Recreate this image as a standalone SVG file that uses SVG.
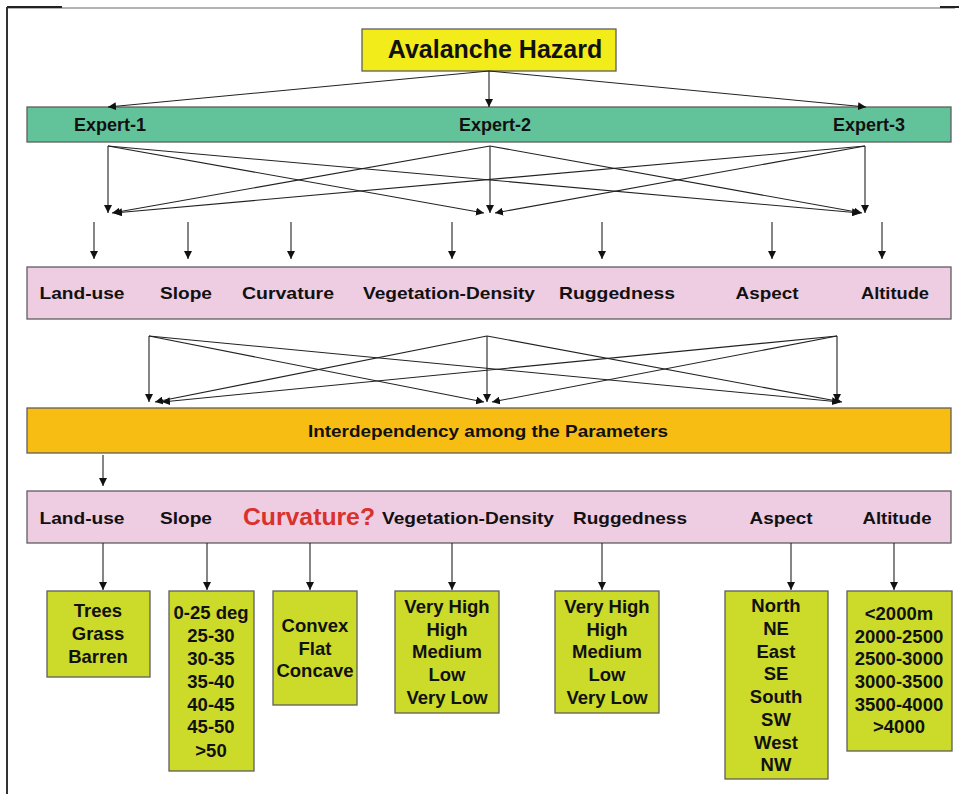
<svg xmlns="http://www.w3.org/2000/svg" width="959" height="794" viewBox="0 0 959 794">
<style>
  text { font-family: "Liberation Sans", Arial, sans-serif; font-weight: bold; fill: #111; text-anchor: middle; }
  .lbl { font-size: 17px; }
  .item { font-size: 18.5px; }
  .box { stroke: #5f5f5f; stroke-width: 1.3; }
  .val { fill: #CCDA2A; stroke: #5f5f5f; stroke-width: 1.3; }
  .con line { stroke: #222; stroke-width: 1.1; marker-end: url(#ah); }
</style>
<defs>
  <marker id="ah" viewBox="0 0 10 10" refX="10" refY="5" markerWidth="8" markerHeight="8" markerUnits="userSpaceOnUse" orient="auto">
    <path d="M0,0 L10,5 L0,10 z" fill="#111"/>
  </marker>
</defs>
<rect width="959" height="794" fill="#fff"/>
<g id="frame">
  <line x1="7" y1="8" x2="955" y2="8" stroke="#9a9a9a" stroke-width="1.5"/>
  <line x1="7" y1="7" x2="62" y2="7" stroke="#222" stroke-width="2"/>
  <line x1="940" y1="7" x2="959" y2="7" stroke="#222" stroke-width="2"/>
  <line x1="7" y1="7" x2="7" y2="794" stroke="#333" stroke-width="2"/>
</g>

<g id="hazard">
  <rect class="box" x="362" y="29" width="254" height="42" fill="#F3EC1B"/>
  <text x="495" y="58" style="font-size:25px">Avalanche Hazard</text>
</g>

<g id="experts">
  <rect class="box" x="27" y="107" width="924" height="35" fill="#62C39B"/>
  <text class="lbl" x="110" y="131" style="font-size:18px">Expert-1</text>
  <text class="lbl" x="495" y="131" style="font-size:18px">Expert-2</text>
  <text class="lbl" x="869" y="131" style="font-size:18px">Expert-3</text>
</g>

<g id="params">
  <rect class="box" x="27" y="267" width="924" height="52" fill="#EECCE1"/>
  <text class="lbl" x="82" y="299" textLength="85" lengthAdjust="spacingAndGlyphs">Land-use</text>
  <text class="lbl" x="186" y="299" textLength="52" lengthAdjust="spacingAndGlyphs">Slope</text>
  <text class="lbl" x="288" y="299" textLength="92" lengthAdjust="spacingAndGlyphs">Curvature</text>
  <text class="lbl" x="449" y="299" textLength="172" lengthAdjust="spacingAndGlyphs">Vegetation-Density</text>
  <text class="lbl" x="617" y="299" textLength="116" lengthAdjust="spacingAndGlyphs">Ruggedness</text>
  <text class="lbl" x="767" y="299" textLength="63" lengthAdjust="spacingAndGlyphs">Aspect</text>
  <text class="lbl" x="895" y="299" textLength="68" lengthAdjust="spacingAndGlyphs">Altitude</text>
</g>

<g id="interdependency">
  <rect class="box" x="27" y="408" width="924" height="45" fill="#F8BD13"/>
  <text x="488" y="437" style="font-size:17px" textLength="360" lengthAdjust="spacingAndGlyphs">Interdependency among the Parameters</text>
</g>

<g id="params2">
  <rect class="box" x="27" y="491" width="924" height="52" fill="#EECCE1"/>
  <text class="lbl" x="82" y="524" textLength="85" lengthAdjust="spacingAndGlyphs">Land-use</text>
  <text class="lbl" x="186" y="524" textLength="52" lengthAdjust="spacingAndGlyphs">Slope</text>
  <text x="309" y="525" style="font-size:24px;fill:#D9322C" textLength="132" lengthAdjust="spacingAndGlyphs">Curvature?</text>
  <text class="lbl" x="468" y="524" textLength="172" lengthAdjust="spacingAndGlyphs">Vegetation-Density</text>
  <text class="lbl" x="630" y="524" textLength="114" lengthAdjust="spacingAndGlyphs">Ruggedness</text>
  <text class="lbl" x="781" y="524" textLength="63" lengthAdjust="spacingAndGlyphs">Aspect</text>
  <text class="lbl" x="897" y="524" textLength="69" lengthAdjust="spacingAndGlyphs">Altitude</text>
</g>

<g id="landuse-values">
  <rect class="val" x="47" y="591" width="103" height="86"/>
  <text class="item" x="98" y="617">Trees</text>
  <text class="item" x="98" y="640">Grass</text>
  <text class="item" x="98" y="663">Barren</text>
</g>
<g id="slope-values">
  <rect class="val" x="169" y="591" width="85" height="180"/>
  <text class="item" x="211" y="619">0-25 deg</text>
  <text class="item" x="211" y="642">25-30</text>
  <text class="item" x="211" y="665">30-35</text>
  <text class="item" x="211" y="688">35-40</text>
  <text class="item" x="211" y="711">40-45</text>
  <text class="item" x="211" y="733">45-50</text>
  <text class="item" x="211" y="757">&gt;50</text>
</g>
<g id="curvature-values">
  <rect class="val" x="273" y="591" width="84" height="114"/>
  <text class="item" x="315" y="632">Convex</text>
  <text class="item" x="315" y="655">Flat</text>
  <text class="item" x="315" y="677">Concave</text>
</g>
<g id="vegetation-values">
  <rect class="val" x="395" y="591" width="104" height="122"/>
  <text class="item" x="447" y="613">Very High</text>
  <text class="item" x="447" y="636">High</text>
  <text class="item" x="447" y="658">Medium</text>
  <text class="item" x="447" y="681">Low</text>
  <text class="item" x="447" y="704">Very Low</text>
</g>
<g id="ruggedness-values">
  <rect class="val" x="555" y="591" width="104" height="122"/>
  <text class="item" x="607" y="613">Very High</text>
  <text class="item" x="607" y="636">High</text>
  <text class="item" x="607" y="658">Medium</text>
  <text class="item" x="607" y="681">Low</text>
  <text class="item" x="607" y="704">Very Low</text>
</g>
<g id="aspect-values">
  <rect class="val" x="725" y="591" width="103" height="188"/>
  <text class="item" x="776" y="612">North</text>
  <text class="item" x="776" y="635">NE</text>
  <text class="item" x="776" y="658">East</text>
  <text class="item" x="776" y="680">SE</text>
  <text class="item" x="776" y="703">South</text>
  <text class="item" x="776" y="726">SW</text>
  <text class="item" x="776" y="749">West</text>
  <text class="item" x="776" y="771">NW</text>
</g>
<g id="altitude-values">
  <rect class="val" x="847" y="591" width="105" height="160"/>
  <text class="item" x="899" y="620">&lt;2000m</text>
  <text class="item" x="899" y="643">2000-2500</text>
  <text class="item" x="899" y="665">2500-3000</text>
  <text class="item" x="899" y="688">3000-3500</text>
  <text class="item" x="899" y="711">3500-4000</text>
  <text class="item" x="899" y="733">&gt;4000</text>
</g>

<g id="connectors" class="con">
  <!-- hazard to experts -->
  <line x1="489" y1="71" x2="108" y2="107"/>
  <line x1="489" y1="71" x2="489" y2="107"/>
  <line x1="489" y1="71" x2="866" y2="107"/>
  <!-- experts cross -->
  <line x1="108" y1="146" x2="108" y2="213"/>
  <line x1="108" y1="146" x2="484" y2="213"/>
  <line x1="108" y1="146" x2="860" y2="213"/>
  <line x1="490" y1="146" x2="112" y2="213"/>
  <line x1="490" y1="146" x2="490" y2="213"/>
  <line x1="490" y1="146" x2="862" y2="213"/>
  <line x1="865" y1="146" x2="114" y2="213"/>
  <line x1="865" y1="146" x2="495" y2="213"/>
  <line x1="865" y1="146" x2="865" y2="213"/>
  <!-- into parameters -->
  <line x1="94" y1="222" x2="94" y2="259"/>
  <line x1="188" y1="222" x2="188" y2="259"/>
  <line x1="291" y1="222" x2="291" y2="259"/>
  <line x1="452" y1="222" x2="452" y2="259"/>
  <line x1="602" y1="222" x2="602" y2="259"/>
  <line x1="772" y1="222" x2="772" y2="259"/>
  <line x1="882" y1="222" x2="882" y2="259"/>
  <!-- parameters cross -->
  <line x1="149" y1="336" x2="149" y2="402"/>
  <line x1="149" y1="336" x2="484" y2="402"/>
  <line x1="149" y1="336" x2="840" y2="402"/>
  <line x1="487" y1="336" x2="155" y2="402"/>
  <line x1="487" y1="336" x2="487" y2="402"/>
  <line x1="487" y1="336" x2="842" y2="402"/>
  <line x1="837" y1="336" x2="162" y2="402"/>
  <line x1="837" y1="336" x2="492" y2="402"/>
  <line x1="837" y1="336" x2="837" y2="402"/>
  <!-- interdependency to params2 -->
  <line x1="103" y1="455" x2="103" y2="486"/>
  <!-- params2 to value boxes -->
  <line x1="103" y1="543" x2="103" y2="590"/>
  <line x1="207" y1="543" x2="207" y2="590"/>
  <line x1="310" y1="543" x2="310" y2="590"/>
  <line x1="452" y1="543" x2="452" y2="590"/>
  <line x1="602" y1="543" x2="602" y2="590"/>
  <line x1="791" y1="543" x2="791" y2="590"/>
  <line x1="894" y1="543" x2="894" y2="590"/>
</g>
</svg>
